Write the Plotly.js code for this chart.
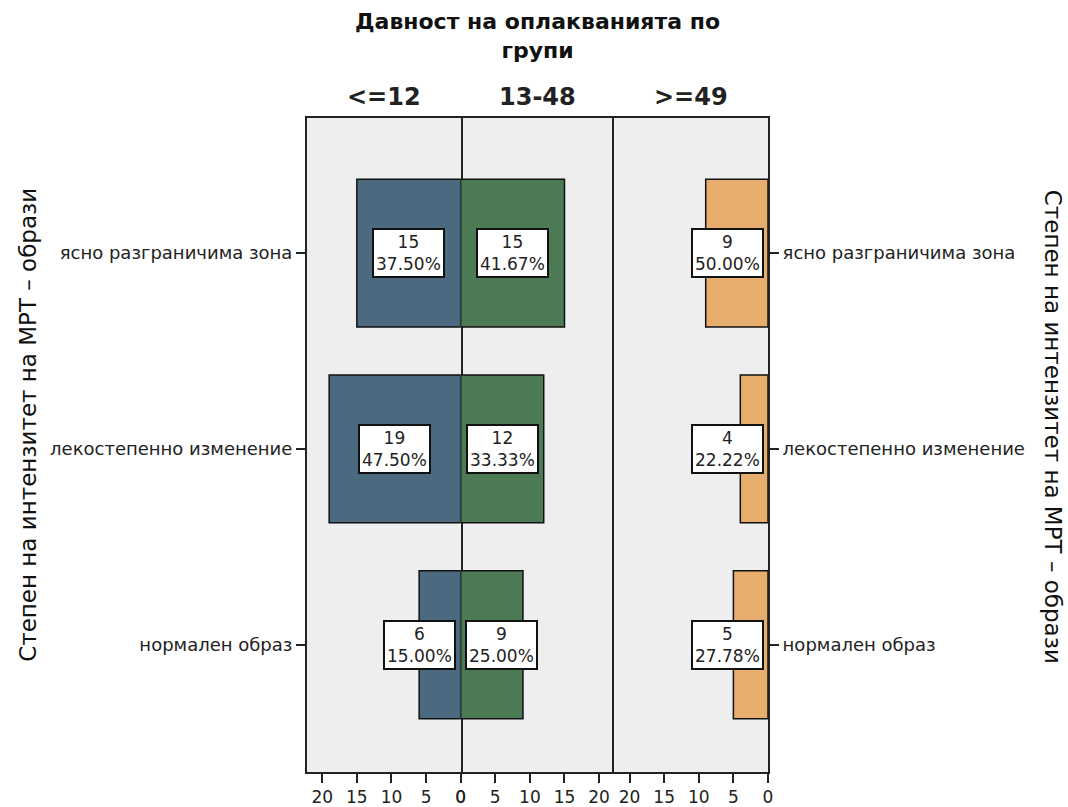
<!DOCTYPE html>
<html>
<head>
<meta charset="utf-8">
<script src="https://cdn.plot.ly/plotly-3.0.1.min.js"></script>
<style>html,body{margin:0;padding:0;background:#fff;}#chart{width:1068px;height:807px;}</style>
</head>
<body>
<div id="chart"></div>
<script>
// Categories (bottom to top)
const categories = ['нормален образ', 'лекостепенно изменение', 'ясно разграничима зона'];
// Groups (panels)
const groups = ['<=12', '13-48', '>=49'];
// Counts per group (same order as categories)
const countsLe12 = [6, 19, 15];
const counts13to48 = [9, 12, 15];
const countsGe49 = [5, 4, 9];
// Percent labels per group
const pctLe12 = ['15.00%', '47.50%', '37.50%'];
const pct13to48 = ['25.00%', '33.33%', '41.67%'];
const pctGe49 = ['27.78%', '22.22%', '50.00%'];
const xTicks = [0, 5, 10, 15, 20];

const colors = ['#4b6a7f', '#4b7a55', '#e7ad6c'];
const FONT = 'DejaVu Sans, sans-serif';
const XMAX = 22.2;
const halfBox = 5.9;

const allCounts = [countsLe12, counts13to48, countsGe49];
const allPct = [pctLe12, pct13to48, pctGe49];
const xAxes = ['x', 'x2', 'x3'];
const yAxes = ['y', 'y', 'y2'];

const traces = allCounts.map((c, i) => ({
  type: 'bar', orientation: 'h',
  x: c, y: categories,
  xaxis: xAxes[i], yaxis: yAxes[i],
  width: 0.755,
  marker: {color: colors[i], line: {color: '#111', width: 1.5}},
  hoverinfo: 'x+y', showlegend: false
}));

const annotations = [];
allCounts.forEach((c, i) => {
  c.forEach((v, j) => {
    annotations.push({
      xref: xAxes[i], yref: yAxes[i],
      x: Math.max(v / 2, halfBox), y: categories[j],
      xanchor: 'center', yanchor: 'middle',
      text: v + '<br>' + allPct[i][j],
      showarrow: false,
      font: {family: FONT, size: 17, color: '#222'},
      bgcolor: '#ffffff', bordercolor: '#111', borderwidth: 2, borderpad: 2
    });
  });
});
// panel headings
groups.forEach((g, i) => {
  annotations.push({
    xref: 'paper', yref: 'paper', x: (i + 0.5) / 3, y: 1.032,
    xanchor: 'center', yanchor: 'middle',
    text: '<b>' + g + '</b>', showarrow: false,
    font: {family: FONT, size: 24, color: '#222'}
  });
});
// side titles
const sideTitle = 'Степен на интензитет на МРТ – образи';
annotations.push({xref: 'paper', yref: 'paper', x: -0.605, y: 0.531, text: sideTitle,
  textangle: -90, showarrow: false, xanchor: 'center', yanchor: 'middle',
  font: {family: FONT, size: 23, color: '#111'}});
annotations.push({xref: 'paper', yref: 'paper', x: 1.618, y: 0.528, text: sideTitle,
  textangle: 90, showarrow: false, xanchor: 'center', yanchor: 'middle',
  font: {family: FONT, size: 23, color: '#111'}});

const xBase = {
  range: [0, XMAX], tickvals: xTicks, ticktext: xTicks.map(String),
  showline: true, mirror: true, linecolor: '#222', linewidth: 2,
  ticks: 'outside', ticklen: 9, tickwidth: 2, tickcolor: '#222',
  showgrid: false, zeroline: false, fixedrange: true,
  tickfont: {family: FONT, size: 17, color: '#222'}
};
const yBase = {
  type: 'category', categoryarray: categories, categoryorder: 'array',
  range: [-0.65, 2.69],
  showline: true, mirror: true, linecolor: '#222', linewidth: 2,
  ticks: 'outside', ticklen: 9, tickwidth: 2, tickcolor: '#222',
  showgrid: false, zeroline: false, fixedrange: true,
  tickfont: {family: FONT, size: 18, color: '#222'}
};

const layout = {
  width: 1068, height: 807,
  margin: {l: 307, r: 300, t: 118, b: 35},
  paper_bgcolor: '#ffffff', plot_bgcolor: '#eeeeee',
  title: {text: '<b>Давност на оплакванията по<br>групи</b>', x: 0.5, xref: 'paper',
    y: 0.964, yref: 'container', yanchor: 'middle',
    font: {family: FONT, size: 22, color: '#111'}},
  xaxis: Object.assign({}, xBase, {domain: [0, 1/3], range: [XMAX, 0], anchor: 'y'}),
  xaxis2: Object.assign({}, xBase, {domain: [1/3, 2/3], range: [0, XMAX], anchor: 'y'}),
  xaxis3: Object.assign({}, xBase, {domain: [2/3, 1], range: [XMAX, 0], anchor: 'y2'}),
  yaxis: Object.assign({}, yBase, {anchor: 'x', side: 'left'}),
  yaxis2: Object.assign({}, yBase, {anchor: 'x3', side: 'right'}),
  annotations: annotations,
  bargap: 0.2
};

Plotly.newPlot('chart', traces, layout, {displayModeBar: false, staticPlot: true});
</script>
</body>
</html>
